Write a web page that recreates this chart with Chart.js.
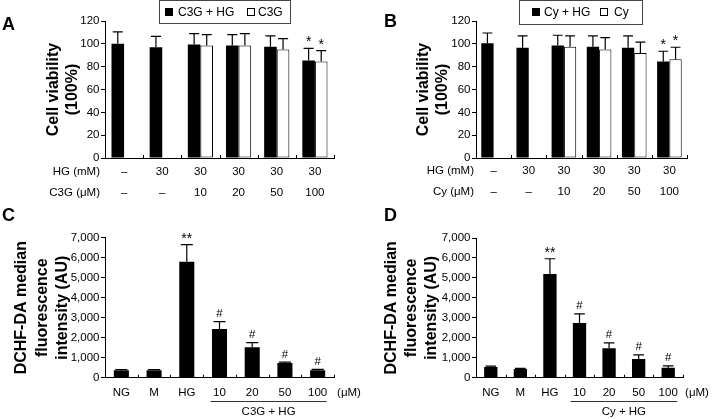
<!DOCTYPE html>
<html>
<head>
<meta charset="utf-8">
<script src="https://cdn.jsdelivr.net/npm/chart.js@4.4.1/dist/chart.umd.min.js"></script>
<style>
  body { margin: 0; background: #fff; }
  #fig { position: relative; width: 712px; height: 419px; overflow: hidden; background: #fff;
         font-family: "Liberation Sans", Arial, sans-serif; color: #000; }
  #fig canvas { position: absolute; }
  .tag { position: absolute; font-weight: bold; font-size: 18px; line-height: 18px; }
  .box { position: absolute; border: 1px solid #444; box-sizing: border-box; }
  .sw { position: absolute; width: 8px; height: 8px; box-sizing: border-box; border: 1px solid #000; top: 8px; }
  .lt { position: absolute; font-size: 12px; line-height: 12px; top: 6px; white-space: nowrap; }
</style>
</head>
<body>
<div id="fig">
  <canvas id="cB" width="356" height="205" style="left:356px;top:0"></canvas>
  <canvas id="cD" width="356" height="214" style="left:356px;top:205px"></canvas>
  <canvas id="cA" width="356" height="205" style="left:0;top:0"></canvas>
  <canvas id="cC" width="370" height="214" style="left:0;top:205px"></canvas>

  <div class="tag" style="left:2px;top:15px">A</div>
  <div class="tag" style="left:384px;top:12px">B</div>
  <div class="tag" style="left:2px;top:206px">C</div>
  <div class="tag" style="left:384px;top:206px">D</div>

  <div class="box" style="left:159px;top:0;width:132px;height:24px"></div>
  <div class="sw" style="left:165px;background:#000"></div>
  <div class="lt" style="left:178px">C3G + HG</div>
  <div class="sw" style="left:247px;background:#fff"></div>
  <div class="lt" style="left:258px">C3G</div>

  <div class="box" style="left:519px;top:0;width:124px;height:25px"></div>
  <div class="sw" style="left:532px;background:#000"></div>
  <div class="lt" style="left:544px">Cy + HG</div>
  <div class="sw" style="left:600px;background:#fff"></div>
  <div class="lt" style="left:614px">Cy</div>
</div>
<script>
// panels A/B: cell viability (%)
const hgRow = ["–", "30", "30", "30", "30", "30"]
const doseRow = ["–", "–", "10", "20", "50", "100"]

const aC3gHg = [100, 97, 99.5, 98.5, 97.5, 85.5]
const aC3gHgErr = [10.5, 9.5, 9.5, 9.5, 9.5, 10.5]
const aC3g = [null, null, 98.5, 98.5, 95, 84.5]
const aC3gErr = [null, null, 9.5, 10.5, 9.5, 9.5]

const bCyHg = [100.5, 96.5, 98.5, 97.5, 96.5, 84.5]
const bCyHgErr = [9, 10.5, 9, 9.5, 10.5, 9]
const bCy = [null, null, 97.5, 95, 92, 86.5]
const bCyErr = [null, null, 9.5, 10.5, 9.5, 10.5]

const viabMarks = ["", "", "", "", "", "*"]
const viabTicks = [0, 20, 40, 60, 80, 100, 120]

// panels C/D: DCHF-DA median fluorescence (AU)
const rosLabels = ["NG", "M", "HG", "10", "20", "50", "100"]
const cValues = [370, 370, 5800, 2430, 1520, 730, 370]
const cErr = [40, 40, 850, 370, 230, 50, 50]
const dValues = [540, 440, 5200, 2740, 1470, 940, 500]
const dErr = [40, 30, 760, 460, 270, 200, 90]
const rosMarks = ["", "", "**", "#", "#", "#", "#"]
const rosTicks = [0, 1000, 2000, 3000, 4000, 5000, 6000, 7000]

const FONT = '"Liberation Sans", Arial, sans-serif'
Chart.defaults.font.family = FONT
Chart.defaults.color = "#000"

// error bars (upper half only) and significance marks
const errorBars = {
  id: "errorBars",
  afterDatasetsDraw(chart) {
    const ctx = chart.ctx
    const y = chart.scales.y
    chart.data.datasets.forEach((ds, i) => {
      const meta = chart.getDatasetMeta(i)
      meta.data.forEach((bar, j) => {
        const v = ds.data[j]
        if (v == null) return
        const top = y.getPixelForValue(v + ds.errors[j])
        const cap = bar.width * 0.4
        ctx.save()
        ctx.strokeStyle = "#000"
        ctx.lineWidth = 1.2
        ctx.beginPath()
        ctx.moveTo(bar.x, bar.y)
        ctx.lineTo(bar.x, top)
        ctx.moveTo(bar.x - cap, top)
        ctx.lineTo(bar.x + cap, top)
        ctx.stroke()
        const m = ds.marks && ds.marks[j]
        if (m) {
          ctx.fillStyle = "#000"
          ctx.textAlign = "center"
          ctx.textBaseline = "alphabetic"
          if (m[0] === "*") {
            ctx.font = "14px " + FONT
            ctx.fillText(m, bar.x, top - 2)
          } else {
            ctx.font = "11.5px " + FONT
            ctx.fillText(m, bar.x, top - 4.5)
          }
        }
        ctx.restore()
      })
    })
  },
}

// inward x ticks, row headers, unit label, group underline
const extras = {
  id: "extras",
  afterDraw(chart, args, opts) {
    const ctx = chart.ctx
    const x = chart.scales.x
    ctx.save()
    ctx.strokeStyle = "#000"
    ctx.lineWidth = 1
    for (let i = 1; i <= chart.data.labels.length; i++) {
      const px = Math.round(x.getPixelForValue(i - 0.5)) + 0.5
      ctx.beginPath()
      ctx.moveTo(px, x.top)
      ctx.lineTo(px, x.top - 3)
      ctx.stroke()
    }
    ctx.fillStyle = "#000"
    ctx.font = "11.5px " + FONT
    ctx.textBaseline = "middle"
    if (opts.rowHeads) {
      ctx.textAlign = "right"
      opts.rowHeads.forEach((t, r) => {
        ctx.fillText(t, opts.rowHeadX, x.top + opts.pad + opts.lineHeight * (r + 0.5))
      })
    }
    if (opts.unit) {
      ctx.textAlign = "center"
      ctx.fillText(opts.unit, opts.unitX, x.top + opts.pad + opts.lineHeight / 2)
    }
    if (opts.group) {
      const a = x.getPixelForValue(opts.group.from) - 9
      const b = x.getPixelForValue(opts.group.to) + 9
      ctx.strokeStyle = "#333"
      ctx.beginPath()
      ctx.moveTo(a, opts.group.lineY + 0.5)
      ctx.lineTo(b, opts.group.lineY + 0.5)
      ctx.stroke()
      ctx.textAlign = "center"
      ctx.fillText(opts.group.text, (a + b) / 2, opts.group.textY)
    }
    ctx.restore()
  },
}

function makeChart(id, p) {
  const canvas = document.getElementById(id)
  return new Chart(canvas.getContext("2d"), {
    type: "bar",
    data: { labels: p.labels, datasets: p.datasets },
    options: {
      responsive: false,
      animation: false,
      devicePixelRatio: 1,
      layout: { padding: { left: 0, top: p.top, right: canvas.width - p.right, bottom: 0 } },
      datasets: {
        bar: { barPercentage: 1, categoryPercentage: p.catPct, borderSkipped: false },
      },
      plugins: {
        legend: { display: false },
        tooltip: { enabled: false },
        extras: p.extras,
      },
      scales: {
        x: {
          grid: { display: false, drawTicks: false },
          border: { color: "#000", width: 1 },
          ticks: {
            padding: p.tickPad,
            autoSkip: false,
            maxRotation: 0,
            font: { size: 11.5, lineHeight: p.lineHeight + "px" },
          },
          afterFit: (s) => { s.height = canvas.height - p.bottom },
        },
        y: {
          min: 0,
          max: p.yTicks[p.yTicks.length - 1],
          afterBuildTicks: (s) => { s.ticks = p.yTicks.map((v) => ({ value: v })) },
          grid: { drawOnChartArea: false, drawTicks: true, tickLength: 4, color: "#000" },
          border: { color: "#000", width: 1 },
          ticks: {
            padding: 1.5,
            font: { size: 11.5 },
            callback: (v) => v.toLocaleString("en-US"),
          },
          title: {
            display: true,
            text: p.title,
            font: { size: p.titleSize, weight: "bold", lineHeight: p.titleLine + "px" },
            padding: { top: p.titlePad, bottom: 0 },
          },
          afterFit: (s) => { s.width = p.left },
        },
      },
    },
    plugins: [errorBars, extras],
  })
}

const viabLabels = hgRow.map((h, i) => [h, doseRow[i]])

makeChart("cA", {
  labels: viabLabels,
  datasets: [
    { label: "C3G + HG", data: aC3gHg, errors: aC3gHgErr, marks: viabMarks,
      backgroundColor: "#000", borderColor: "#000", borderWidth: 0 },
    { label: "C3G", data: aC3g, errors: aC3gErr, marks: viabMarks,
      backgroundColor: "#fff", borderColor: "#000", borderWidth: 1 },
  ],
  left: 105, right: 334, top: 21, bottom: 158, catPct: 0.66,
  tickPad: 3.2, lineHeight: 21, yTicks: viabTicks,
  title: ["Cell viability", "(100%)"], titleSize: 16, titleLine: 19, titlePad: 44.5,
  extras: { rowHeads: ["HG (mM)", "C3G (μM)"], rowHeadX: 100, pad: 3.2, lineHeight: 21 },
})

makeChart("cB", {
  labels: viabLabels,
  datasets: [
    { label: "Cy + HG", data: bCyHg, errors: bCyHgErr, marks: viabMarks,
      backgroundColor: "#000", borderColor: "#000", borderWidth: 0 },
    { label: "Cy", data: bCy, errors: bCyErr, marks: viabMarks,
      backgroundColor: "#fff", borderColor: "#000", borderWidth: 1 },
  ],
  left: 120, right: 331, top: 21, bottom: 158, catPct: 0.7,
  tickPad: 2.5, lineHeight: 21, yTicks: viabTicks,
  title: ["Cell viability", "(100%)"], titleSize: 16, titleLine: 19, titlePad: 58,
  extras: { rowHeads: ["HG (mM)", "Cy (μM)"], rowHeadX: 118, pad: 2.5, lineHeight: 21 },
})

makeChart("cC", {
  labels: rosLabels,
  datasets: [
    { label: "C3G", data: cValues, errors: cErr, marks: rosMarks,
      backgroundColor: "#000", borderColor: "#000", borderWidth: 0 },
  ],
  left: 105, right: 334, top: 32.7, bottom: 172.7, catPct: 0.46,
  tickPad: 8, lineHeight: 13.8, yTicks: rosTicks,
  title: ["DCHF-DA median", "fluorescence", "intensity (AU)"], titleSize: 16, titleLine: 20.5, titlePad: 11.75,
  extras: { unit: "(μM)", unitX: 349, pad: 8, lineHeight: 13.8,
            group: { text: "C3G + HG", from: 3, to: 6, lineY: 196, textY: 206.7 } },
})

makeChart("cD", {
  labels: rosLabels,
  datasets: [
    { label: "Cy", data: dValues, errors: dErr, marks: rosMarks,
      backgroundColor: "#000", borderColor: "#000", borderWidth: 0 },
  ],
  left: 120, right: 327, top: 33, bottom: 172.7, catPct: 0.45,
  tickPad: 8, lineHeight: 13.8, yTicks: rosTicks,
  title: ["DCHF-DA median", "fluorescence", "intensity (AU)"], titleSize: 16, titleLine: 20, titlePad: 26,
  extras: { unit: "(μM)", unitX: 341, pad: 8, lineHeight: 13.8,
            group: { text: "Cy + HG", from: 3, to: 6, lineY: 196, textY: 207 } },
})
</script>
</body>
</html>
